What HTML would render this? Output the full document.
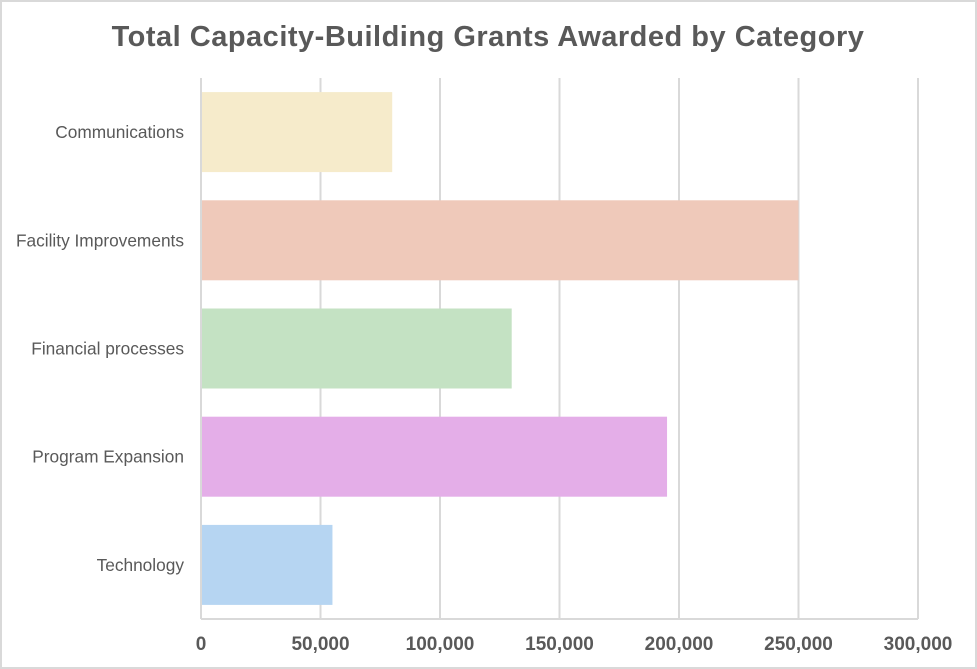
<!DOCTYPE html>
<html><head><style>
body{margin:0;background:#fff}
#c{position:relative;width:977px;height:669px;box-sizing:border-box;border:2px solid #d9d9d9;overflow:hidden}
text{font-family:"Liberation Sans",sans-serif}
</style></head><body>
<div id="c">
<svg id="s" width="973" height="665" viewBox="2 2 973 665" xmlns="http://www.w3.org/2000/svg">
<text x="488" y="46" text-anchor="middle" font-size="29" font-weight="bold" fill="#595959" letter-spacing="0.5">Total Capacity-Building Grants Awarded by Category</text>
<g id="grid"></g><g id="bars"></g><g id="labels"></g>
</svg>
</div>
<script>
const categories=["Communications","Facility Improvements","Financial processes","Program Expansion","Technology"];
const values=[80000,250000,130000,195000,55000];
const colors=["#f6ebcb","#efc9ba","#c4e2c3","#e4aee8","#b6d5f2"];
const ticks=[0,50000,100000,150000,200000,250000,300000];
const tickLabels=["0","50,000","100,000","150,000","200,000","250,000","300,000"];
const X0=201,X1=918,Y0=78,Y1=619,MAX=300000;
const ns="http://www.w3.org/2000/svg";
const xs=v=>X0+(X1-X0)*v/MAX;
const band=(Y1-Y0)/categories.length;
function mk(t,a,p){const e=document.createElementNS(ns,t);for(const k in a)e.setAttribute(k,a[k]);p.appendChild(e);return e;}
const g=document.getElementById('grid'),b=document.getElementById('bars'),l=document.getElementById('labels');
ticks.forEach((t,i)=>{
 const ln=mk('line',{x1:xs(t),x2:xs(t),y1:Y0,y2:Y1,stroke:'#d9d9d9','stroke-width':2},g);
 
 
 const tx=mk('text',{x:xs(t),y:650,'text-anchor':'middle','font-size':19,'font-weight':'bold',fill:'#595959'},l);
 tx.textContent=tickLabels[i];
 
 
});
const ax=mk('line',{x1:X0,x2:X1,y1:Y1,y2:Y1,stroke:'#d9d9d9','stroke-width':2},g);


categories.forEach((c,i)=>{
 const yc=Y0+band*(i+0.5);
 const r=mk('rect',{x:X0+1,y:yc-40,width:xs(values[i])-X0-1,height:80,fill:colors[i]},b);
 
 
 const tx=mk('text',{x:184,y:yc+6,'text-anchor':'end','font-size':17.3,fill:'#595959'},l);
 tx.textContent=c;
 
 
});
</script>
</body></html>
